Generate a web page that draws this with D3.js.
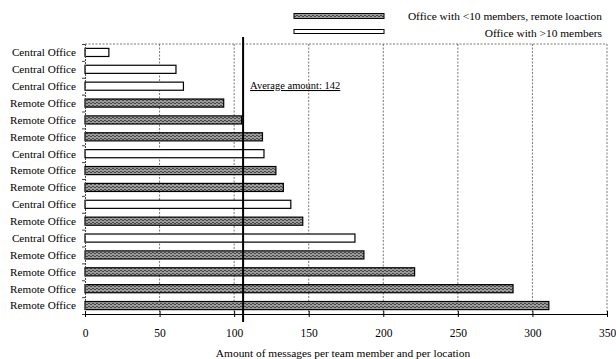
<!DOCTYPE html>
<html><head><meta charset="utf-8">
<script src="https://cdn.jsdelivr.net/npm/d3@7"></script>
<style>body{margin:0;background:#fff}svg{display:block}svg text{font-family:'Liberation Serif','Times New Roman','DejaVu Serif',serif !important}</style>
</head><body><svg id="c" width="616" height="359"></svg>
<script>
const categories = ["Central Office","Central Office","Central Office","Remote Office","Remote Office","Remote Office","Central Office","Remote Office","Remote Office","Central Office","Remote Office","Central Office","Remote Office","Remote Office","Remote Office","Remote Office"];
const officeType = ["large","large","large","small","small","small","large","small","small","large","small","large","small","small","small","small"];
const values = [16,61,66,93,105,119,120,128,133,138,146,181,187,221,287,311];
const xTicks = [0,50,100,150,200,250,300,350];
const averageLine = 106;
const averageLabel = "Average amount: 142";
const legendLabels = ["Office with <10 members, remote loaction","Office with >10 members"];
const xTitle = "Amount of messages per team member and per location";

const svg = d3.select("#c");
const L = 85, R = 607, T = 44, B = 314;
const x = d3.scaleLinear().domain([0,350]).range([L,R]);
const y = d3.scaleBand().domain(d3.range(values.length)).range([T,B]).paddingInner(0.52).paddingOuter(0.26);

const defs = svg.append("defs");
const pat = defs.append("pattern").attr("id","hatch").attr("patternUnits","userSpaceOnUse").attr("width",4).attr("height",3);
pat.append("rect").attr("width",4).attr("height",3).attr("fill","#9a9a9a");
pat.append("path").attr("d","M0,1 L1,0 L2,1 L3,2 L4,1").attr("stroke","#333").attr("stroke-width",0.8).attr("fill","none");

svg.append("g").selectAll("line").data(xTicks.slice(1)).join("line")
  .attr("x1",d=>x(d)).attr("x2",d=>x(d)).attr("y1",T).attr("y2",B)
  .attr("stroke","#555").attr("stroke-width",0.8).attr("stroke-dasharray","2,1.5");
svg.append("line").attr("x1",L).attr("x2",R).attr("y1",T).attr("y2",T)
  .attr("stroke","#555").attr("stroke-width",0.8).attr("stroke-dasharray","2,1.5");

svg.append("g").selectAll("rect").data(values).join("rect")
  .attr("x",x(0)).attr("y",(d,i)=>y(i)).attr("width",d=>x(d)-x(0)).attr("height",y.bandwidth())
  .attr("fill",(d,i)=>officeType[i]==="small"?"url(#hatch)":"#fff")
  .attr("stroke","#000").attr("stroke-width",1.2);

const yAx = d3.scaleLinear().domain([0,values.length]).range([T,B]);
const gy = svg.append("g").attr("transform",`translate(${L},0)`)
  .call(d3.axisLeft(yAx).ticks(values.length).tickFormat("").tickSizeOuter(0).tickSize(3));
gy.select(".domain").attr("stroke","#444").attr("stroke-dasharray","2,1");
gy.selectAll(".tick line").attr("stroke","#444");
svg.append("g").selectAll("text").data(categories).join("text")
  .attr("x",L-9).attr("y",(d,i)=>y(i)+y.bandwidth()/2).attr("dy","0.35em")
  .attr("text-anchor","end").attr("font-size",11.2).text(d=>d);

const gx = svg.append("g").attr("transform",`translate(0,${B})`)
  .call(d3.axisBottom(x).tickValues(xTicks).tickSizeInner(3).tickSizeOuter(0).tickFormat(d3.format("d")));
gx.select(".domain").attr("stroke","#000").attr("stroke-width",1);
gx.selectAll(".tick line").attr("y1",-3).attr("y2",3).attr("stroke","#000");
gx.selectAll(".tick text").attr("y",15).attr("font-size",11.5);
svg.append("text").attr("x",343).attr("y",357).attr("text-anchor","middle").attr("font-size",11.4).text(xTitle);

svg.append("line").attr("x1",x(averageLine)).attr("x2",x(averageLine)).attr("y1",37).attr("y2",322)
  .attr("stroke","#000").attr("stroke-width",2);
svg.append("text").attr("x",x(averageLine)+7).attr("y",89).attr("font-size",10.5)
  .attr("text-decoration","underline").text(averageLabel);

const lg = svg.append("g");
lg.append("rect").attr("x",294).attr("y",13.5).attr("width",90).attr("height",5).attr("fill","url(#hatch)").attr("stroke","#000");
lg.append("rect").attr("x",294).attr("y",29.5).attr("width",90).attr("height",4).attr("fill","#fff").attr("stroke","#000");
lg.append("text").attr("x",602).attr("y",20).attr("text-anchor","end").attr("font-size",11.4).text(legendLabels[0]);
lg.append("text").attr("x",602).attr("y",37).attr("text-anchor","end").attr("font-size",11.4).text(legendLabels[1]);
</script></body></html>
